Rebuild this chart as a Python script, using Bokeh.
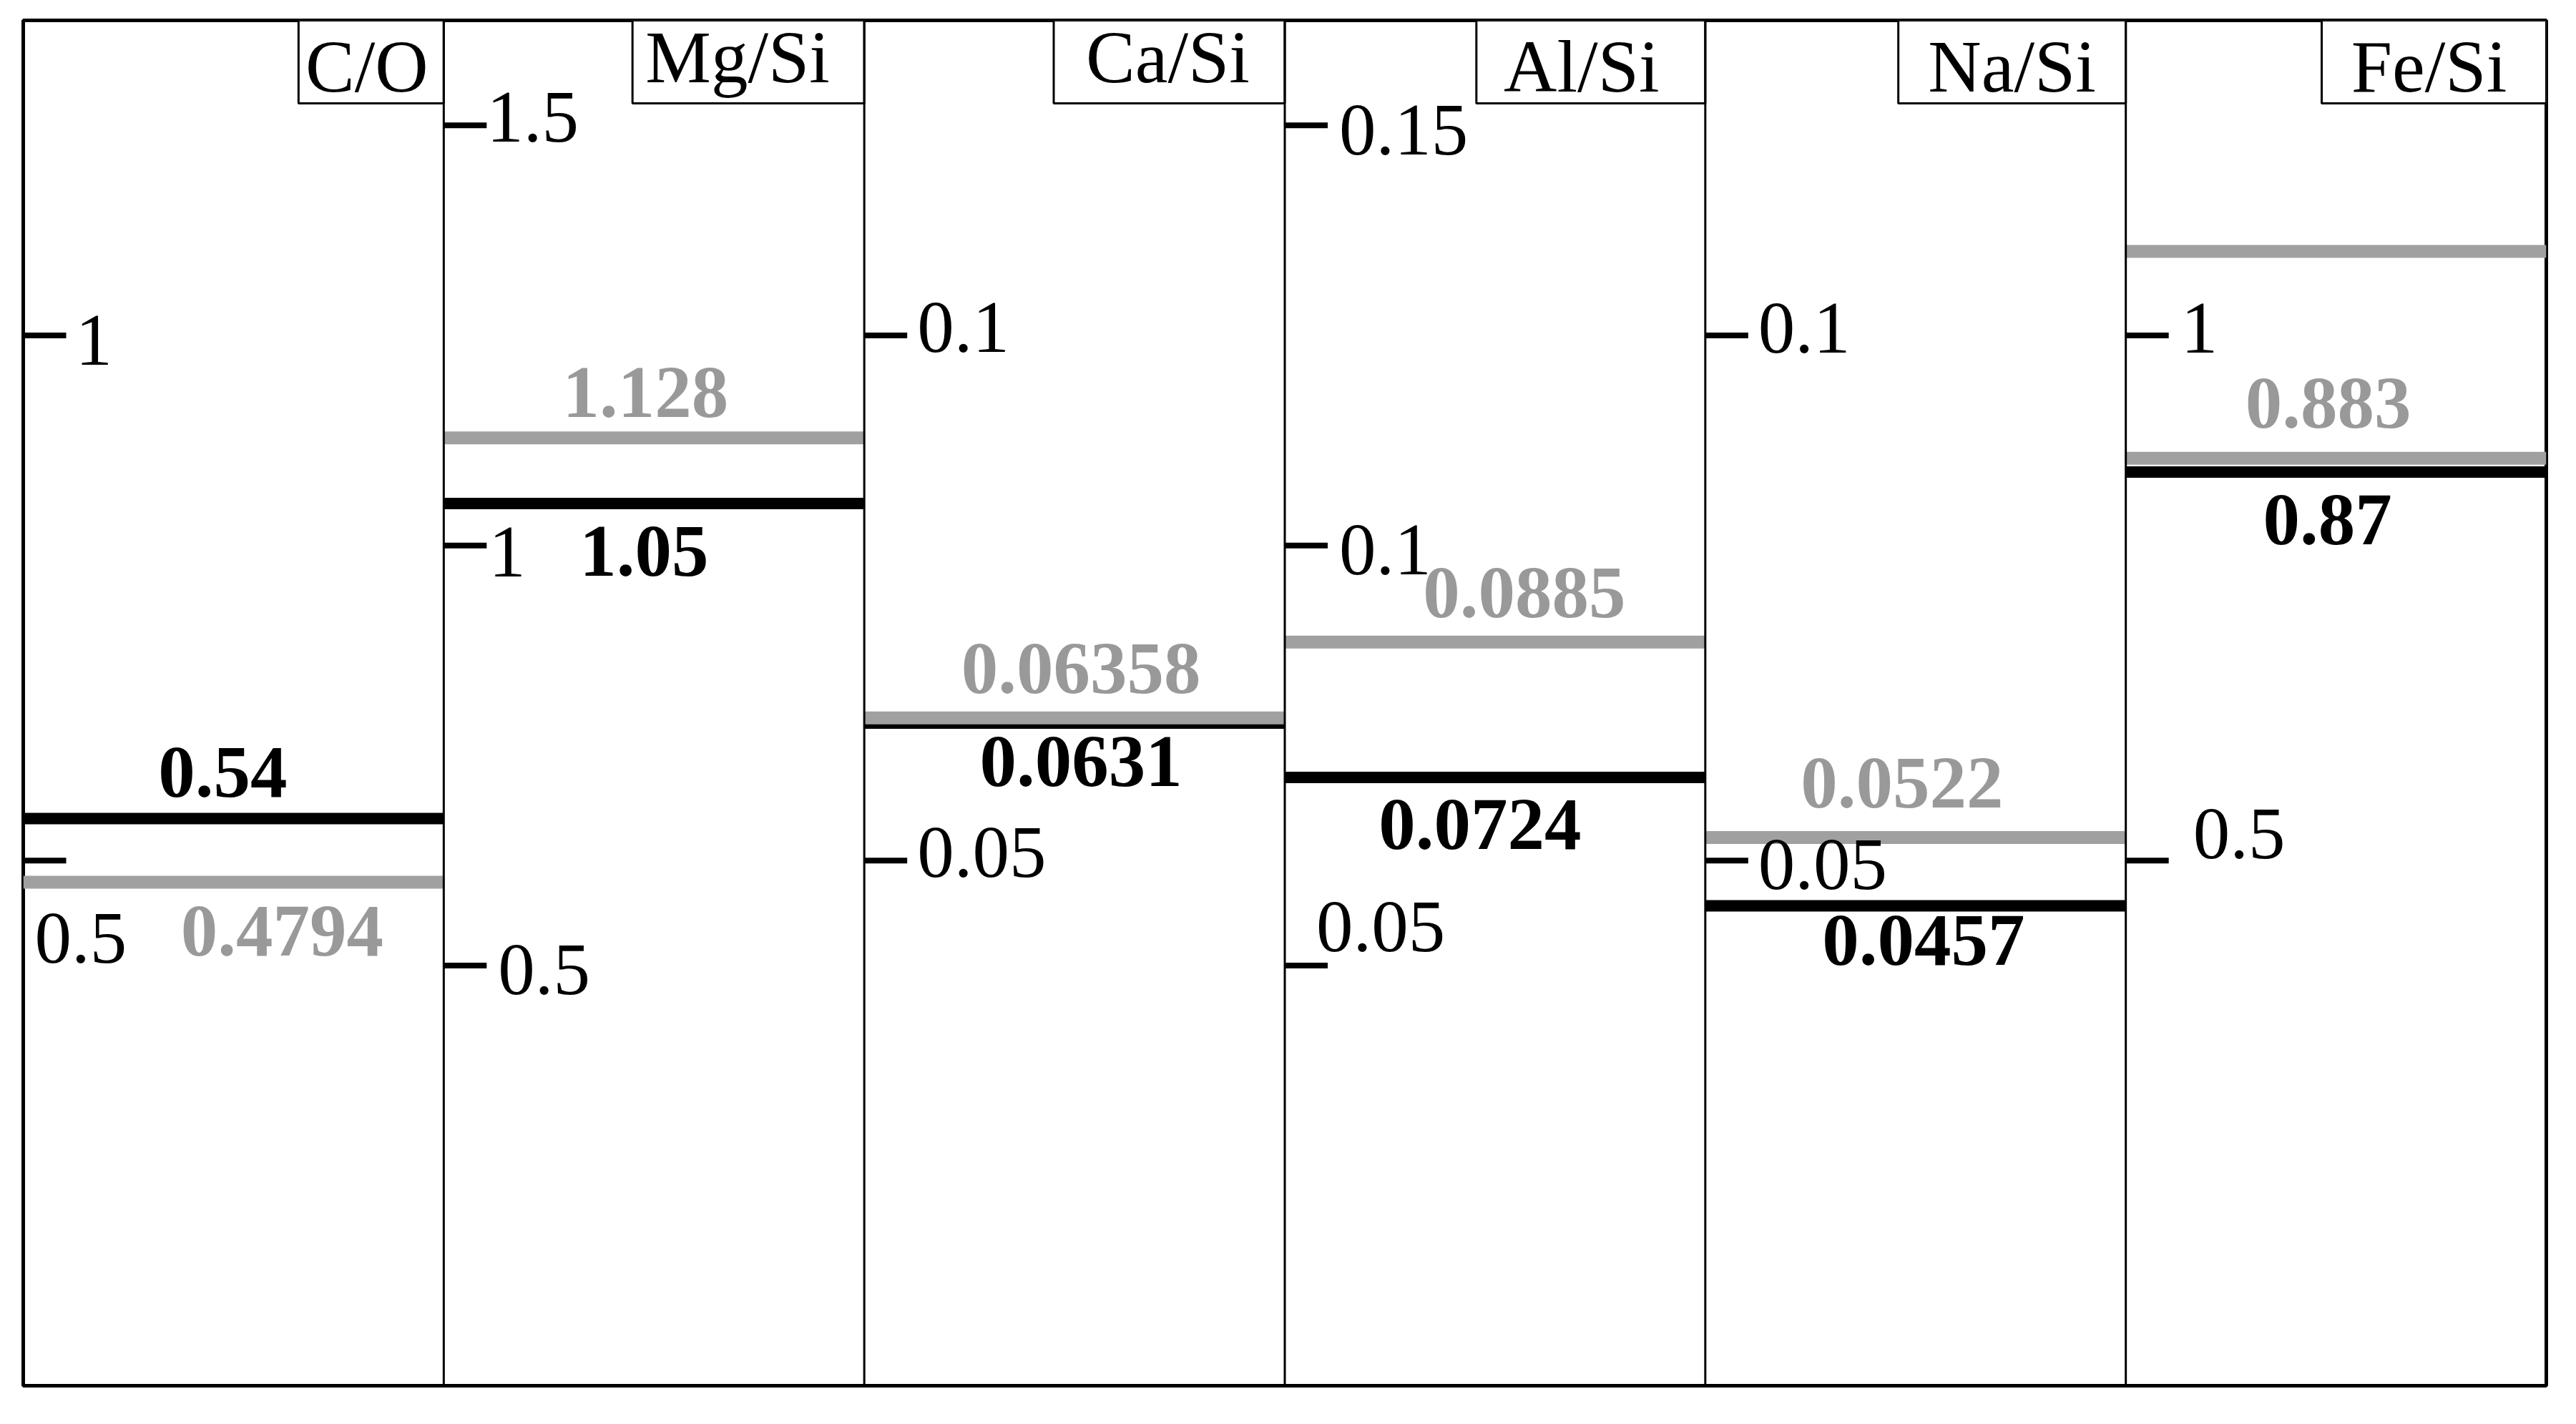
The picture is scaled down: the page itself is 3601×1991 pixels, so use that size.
from bokeh.plotting import figure
from bokeh.models import Range1d, Span
from bokeh.core.properties import value
from bokeh.embed import file_html
from bokeh.resources import INLINE

# ---------------- data ----------------
panels = ["C/O", "Mg/Si", "Ca/Si", "Al/Si", "Na/Si", "Fe/Si"]
axis_max = [1.3, 1.625, 0.13, 0.1625, 0.13, 1.3]
black_values = [0.54, 1.05, 0.0631, 0.0724, 0.0457, 0.87]
grey_values = [0.4794, 1.128, 0.06358, 0.0885, 0.0522, 0.883]
extra_grey_panel = [5]
extra_grey_values = [1.08]
tick_values = [[1, 0.5], [1.5, 1, 0.5], [0.1, 0.05], [0.15, 0.1, 0.05], [0.1, 0.05], [1, 0.5]]

# ---------------- layout / style ----------------
FRAME_W, FRAME_H = 3527, 1909
PANEL_PX = FRAME_W / len(panels)
FONT = value("Liberation Serif")
FS = "103px"
BLACK = "#000000"
GREY = "#a0a0a0"
GREY_TXT = "#999999"
TEXT_SHIFT = -33

black_label_dx = [-15, -14, 9, -21, 11, -12]
black_label_dy = [-32, 100, 87, 99, 82, 100]
grey_label_dx = [68, -12, 9, 41, -19, -11]
grey_label_dy = [101, -30, -36, -36, -43, -44]
tick_label_dx = [[73, 16], [60, 63, 76], [74, 74], [76, 76, 44], [74, 74], [77, 94]]
tick_label_dy = [[40, 142], [22, 42, 39], [22, 22], [40, 39, -21], [23, 39], [23, -4]]
title_box_w = [203, 324, 323, 320, 318, 314]
title_box_h = 116
title_dx = [-6, -15, -2, -13, 0, -7]
title_base = [97, 84, 84, 97, 97, 97]   # baseline, px below frame top
TICK_LEN = 60

p = figure(width=32 + FRAME_W + 20, height=28 + FRAME_H + 20,
           x_range=Range1d(0, len(panels)), y_range=Range1d(0, FRAME_H),
           output_backend="svg", toolbar_location=None,
           x_axis_location=None, y_axis_location=None,
           min_border_left=32, min_border_right=20,
           min_border_top=28, min_border_bottom=20)
p.grid.grid_line_color = None
p.outline_line_color = "black"
p.outline_line_width = 5
p.background_fill_color = "white"
p.border_fill_color = "white"

for k, name in enumerate(panels):
    rn = f"panel{k}"
    p.extra_y_ranges[rn] = Range1d(0, axis_max[k])

    # value lines (black first, grey on top)
    p.segment(x0=[k], x1=[k + 1], y0=[black_values[k]], y1=[black_values[k]],
              line_color=BLACK, line_width=16, line_cap="butt", y_range_name=rn)
    p.segment(x0=[k], x1=[k + 1], y0=[grey_values[k]], y1=[grey_values[k]],
              line_color=GREY, line_width=18, line_cap="butt", y_range_name=rn)

    # value labels
    p.text(x=[k + 0.5], y=[black_values[k]], text=[str(black_values[k])],
           x_offset=black_label_dx[k], y_offset=black_label_dy[k] + TEXT_SHIFT,
           text_align="center", text_baseline="alphabetic",
           text_font=FONT, text_font_size=FS, text_font_style="bold",
           text_color=BLACK, y_range_name=rn)
    p.text(x=[k + 0.5], y=[grey_values[k]], text=[str(grey_values[k])],
           x_offset=grey_label_dx[k], y_offset=grey_label_dy[k] + TEXT_SHIFT,
           text_align="center", text_baseline="alphabetic",
           text_font=FONT, text_font_size=FS, text_font_style="bold",
           text_color=GREY_TXT, y_range_name=rn)

    # ticks
    for j, tv in enumerate(tick_values[k]):
        p.segment(x0=[k], x1=[k + TICK_LEN / PANEL_PX], y0=[tv], y1=[tv],
                  line_color=BLACK, line_width=8, line_cap="butt", y_range_name=rn)
        p.text(x=[k], y=[tv], text=[f"{tv:g}"],
               x_offset=tick_label_dx[k][j], y_offset=tick_label_dy[k][j] + TEXT_SHIFT,
               text_align="left", text_baseline="alphabetic",
               text_font=FONT, text_font_size=FS, text_color=BLACK,
               y_range_name=rn)

    # title box
    right = k + 1
    left = right - title_box_w[k] / PANEL_PX
    p.quad(left=[left], right=[right], top=[FRAME_H], bottom=[FRAME_H - title_box_h],
           fill_color="white", line_color=BLACK, line_width=3)
    p.text(x=[(left + right) / 2], y=[FRAME_H - title_base[k]], text=[name],
           x_offset=title_dx[k], y_offset=TEXT_SHIFT,
           text_align="center", text_baseline="alphabetic",
           text_font=FONT, text_font_size=FS, text_color=BLACK)

for k, v in zip(extra_grey_panel, extra_grey_values):
    p.segment(x0=[k], x1=[k + 1], y0=[v], y1=[v], line_color=GREY, line_width=18,
              line_cap="butt", y_range_name=f"panel{k}")

for k in range(1, len(panels)):
    p.add_layout(Span(location=k, dimension="height", line_color=BLACK, line_width=3))

open("out.html", "w").write(file_html(p, INLINE))
